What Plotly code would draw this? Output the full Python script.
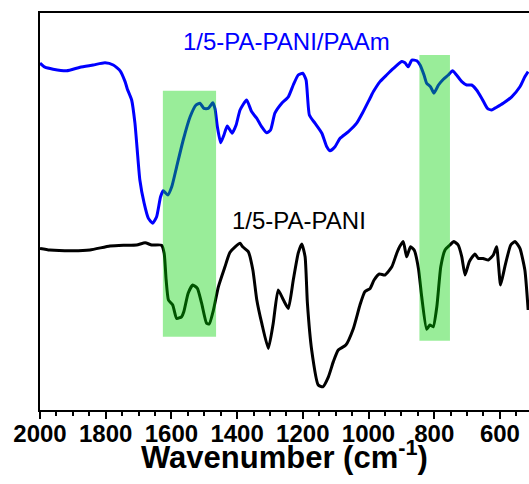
import plotly.graph_objects as go

# Blue curve: 1/5-PA-PANI/PAAm (wavenumber, transmittance a.u.)
paam_wn = [2000, 1985, 1960, 1919, 1878, 1838, 1802, 1777, 1756, 1741, 1734, 1721, 1711, 1704,
           1696, 1683, 1670, 1657, 1645, 1633, 1625, 1611, 1599, 1584, 1564, 1543, 1525, 1513,
           1501, 1488, 1474, 1467, 1460, 1450, 1440, 1430, 1415, 1403, 1391, 1371, 1356, 1340,
           1325, 1310, 1298, 1285, 1264, 1244, 1229, 1214, 1200, 1190, 1180, 1163, 1142, 1127,
           1117, 1102, 1087, 1061, 1036, 1016, 995, 985, 965, 945, 924, 899, 889, 879, 868, 853,
           843, 831, 823, 811, 801, 787, 772, 757, 744, 732, 716, 701, 686, 671, 655, 638, 625,
           610, 590, 564, 539, 524, 514]
paam_t = [86.7, 85.7, 85.2, 84.8, 85.7, 86.25, 86.8, 86.25, 84.8, 82.1, 80.2, 77.5, 71.7, 65.0,
          57.5, 51.7, 47.9, 46.7, 48.3, 53.3, 54.8, 53.75, 55.8, 60.8, 67.5, 73.3, 76.25, 76.7,
          75.4, 75.4, 76.8, 75.2, 70.8, 66.8, 68.75, 71.0, 69.2, 71.25, 75.0, 77.5, 74.6, 72.9,
          70.8, 69.3, 70.0, 74.2, 76.7, 78.3, 81.25, 83.75, 84.2, 82.5, 73.75, 71.7, 69.2, 65.8,
          64.8, 65.8, 67.9, 69.6, 71.7, 74.6, 78.0, 79.6, 82.1, 83.75, 85.4, 87.1, 86.8, 85.8,
          87.5, 87.3, 86.25, 83.75, 81.7, 80.8, 79.2, 81.25, 82.7, 83.75, 84.8, 83.75, 82.1,
          81.25, 81.25, 80.0, 77.9, 75.4, 75.0, 75.7, 76.7, 78.3, 80.8, 83.3, 84.6]

# Black curve: 1/5-PA-PANI
pani_wn = [2000, 1970, 1899, 1848, 1787, 1746, 1706, 1680, 1660, 1630, 1622, 1616, 1609, 1596,
           1584, 1569, 1562, 1549, 1535, 1521, 1508, 1493, 1485, 1472, 1457, 1437, 1422, 1406,
           1391, 1383, 1366, 1352, 1340, 1325, 1305, 1290, 1275, 1259, 1244, 1229, 1214, 1203,
           1193, 1186, 1173, 1153, 1139, 1122, 1107, 1092, 1069, 1046, 1026, 1011, 995, 983, 967,
           950, 929, 914, 904, 894, 884, 872, 861, 848, 838, 823, 813, 803, 792, 780, 767, 752,
           740, 727, 716, 706, 693, 676, 666, 651, 635, 620, 610, 598, 585, 567, 554, 539, 524,
           514]
pani_t = [40.4, 40.0, 39.8, 40.0, 41.0, 41.2, 41.25, 41.8, 41.25, 41.2, 39.2, 32.5, 27.5, 26.25,
          22.9, 23.3, 24.6, 29.2, 31.25, 30.4, 26.7, 21.7, 21.5, 25.0, 30.8, 35.8, 39.4, 40.8,
          41.7, 40.8, 39.6, 35.0, 27.5, 21.7, 15.4, 21.7, 30.0, 27.5, 25.4, 32.5, 39.2, 41.5,
          38.3, 26.7, 15.0, 6.25, 5.8, 8.3, 12.1, 15.0, 16.25, 20.4, 26.25, 29.6, 30.4, 32.5, 34.0,
          33.75, 35.8, 39.2, 41.0, 42.1, 38.3, 40.8, 40.0, 35.4, 28.3, 20.2, 21.25, 20.8, 25.8,
          35.8, 40.0, 41.25, 42.1, 41.25, 38.3, 33.75, 37.1, 39.0, 37.9, 37.9, 37.5, 38.75, 40.8,
          31.25, 35.8, 41.25, 42.1, 40.4, 35.0, 25.0]

# Highlighted bands (wavenumber start/end, transmittance bottom/top)
band_wn = [(1626, 1464), (845, 752)]
band_t = [(18.3, 79.8), (17.3, 88.75)]

labels = ["1/5-PA-PANI/PAAm", "1/5-PA-PANI"]
label_wn = [1250, 1212]
label_t = [92.25, 47.4]
label_colors = ["#0000ff", "#000000"]

tick_vals = [2000, 1800, 1600, 1400, 1200, 1000, 800, 600]
x_title = "Wavenumber (cm<sup>-1</sup>)"

FONT = "Arial, Liberation Sans, sans-serif"

fig = go.Figure()
fig.add_trace(go.Scatter(x=paam_wn, y=paam_t, mode="lines",
                         line=dict(color="#0000ff", width=3, shape="spline", smoothing=0.5),
                         showlegend=False))
fig.add_trace(go.Scatter(x=pani_wn, y=pani_t, mode="lines",
                         line=dict(color="#000000", width=3, shape="spline", smoothing=0.5),
                         showlegend=False))

for (x0, x1), (y0, y1) in zip(band_wn, band_t):
    fig.add_shape(type="rect", xref="x", yref="y", x0=x0, x1=x1, y0=y0, y1=y1,
                  fillcolor="rgba(0,210,0,0.4)", line=dict(width=0), layer="above")

for txt, xv, yv, c in zip(labels, label_wn, label_t, label_colors):
    fig.add_annotation(x=xv, y=yv, text=txt, showarrow=False, xref="x", yref="y",
                       font=dict(family=FONT, size=24, color=c))

# axis title as a paper-anchored annotation for precise placement
fig.add_annotation(x=0.5, y=-0.113, xref="paper", yref="paper", text=x_title,
                   showarrow=False, xanchor="center", yanchor="middle",
                   font=dict(family=FONT, size=31, color="black", weight="bold"))

fig.update_layout(
    width=529, height=484,
    margin=dict(l=40, r=0, t=13, b=74),
    paper_bgcolor="white", plot_bgcolor="white",
    font=dict(family=FONT, color="black"),
    xaxis=dict(range=[2000, 511.4], showgrid=False, zeroline=False,
               showline=True, linecolor="black", linewidth=2, mirror=True,
               tickvals=tick_vals, ticks="outside", ticklen=7, tickwidth=2, tickcolor="black",
               ticklabelstandoff=-6,
               tickfont=dict(family=FONT, size=24, color="black", weight="bold"),
               minor=dict(dtick=50, tick0=0, ticks="outside", ticklen=4, tickwidth=1.5,
                          tickcolor="black", showgrid=False)),
    yaxis=dict(range=[0, 99.25], showgrid=False, zeroline=False, showticklabels=False,
               ticks="", showline=True, linecolor="black", linewidth=2),
)

fig.write_html("out.html")
